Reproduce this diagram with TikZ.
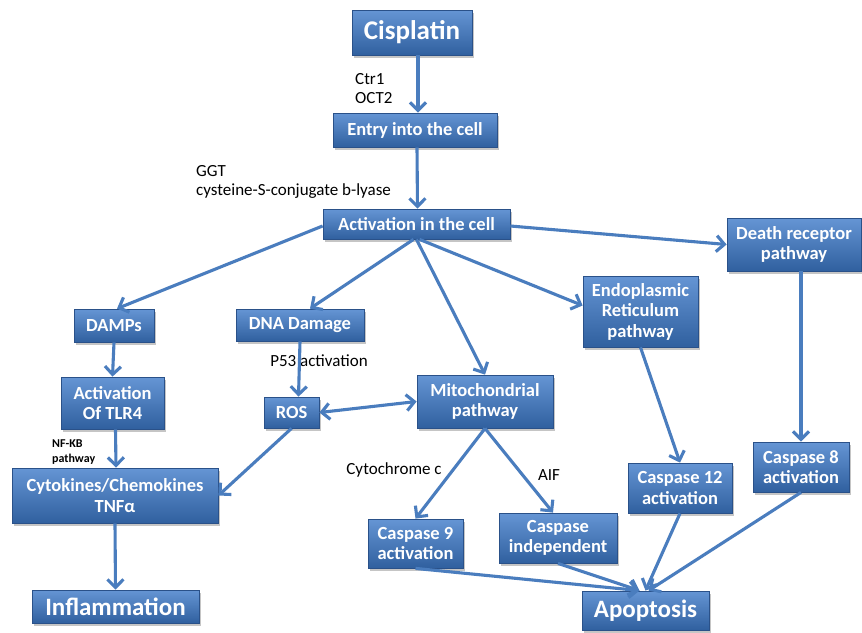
\documentclass[tikz,border=0pt]{standalone}
\usepackage{fontspec}
\setmainfont{Carlito}
\usetikzlibrary{arrows.meta,shadows}
\definecolor{boxtop}{HTML}{6595D4}
\definecolor{boxbot}{HTML}{30609F}
\definecolor{boxedge}{HTML}{2A5189}
\definecolor{arr}{HTML}{4A7DBE}
\begin{document}
\begin{tikzpicture}[x=1pt,y=-1pt,
  >={Straight Barb[length=8pt,width=16pt]},
  box/.style={draw=boxedge, line width=0.8pt, top color=boxtop, bottom color=boxbot,
    text=white, font=\bfseries\fontsize{18.5}{20.5}\selectfont, align=center, inner sep=0pt,
    drop shadow={shadow xshift=2pt,shadow yshift=-2.5pt,opacity=0.45}},
  wh/.style n args={2}{minimum width=#1pt, minimum height=#2pt},
  big/.style={font=\bfseries\fontsize{25}{28}\selectfont},
  conn/.style={draw=arr, line width=3.1pt, ->},
  lbl/.style={font=\fontsize{17}{19.5}\selectfont, text=black, align=left, inner sep=0pt}]
\useasboundingbox[fill=white] (0,0) rectangle (862,632);

% boxes
\node[box, wh={120}{45}, font=\bfseries\fontsize{27}{30}\selectfont] (cis) at (412,32.5) {Cisplatin};
\node[box, wh={164}{34}] (entry) at (415,130) {Entry into the cell};
\node[box, wh={187}{30}] (act) at (416.5,224) {Activation in the cell};
\node[box, wh={134}{53}] (death) at (794,244.5) {Death receptor\\pathway};
\node[box, wh={115}{71}] (er) at (640.5,311.5) {Endoplasmic\\Reticulum\\pathway};
\node[box, wh={96}{50}] (c8) at (801,467) {Caspase 8\\activation};
\node[box, wh={104}{50}] (c12) at (680,488) {Caspase 12\\activation};
\node[box, wh={127}{39}, big] (apop) at (645.5,610.5) {Apoptosis};
\node[box, wh={118}{50}] (cind) at (558,538) {Caspase\\independent};
\node[box, wh={95}{49}] (c9) at (415.5,543.5) {Caspase 9\\activation};
\node[box, wh={136}{53}] (mito) at (485,401.5) {Mitochondrial\\pathway};
\node[box, wh={80}{33}] (damps) at (114,325.5) {DAMPs};
\node[box, wh={128}{32}] (dna) at (300,325) {DNA Damage};
\node[box, wh={103}{52}] (tlr4) at (112.5,403) {Activation\\Of TLR4};
\node[box, wh={55}{31}] (ros) at (291.5,412.5) {ROS};
\node[box, wh={206}{55}] (cyto) at (115,495.5) {Cytokines/Chemokines\\TNFα};
\node[box, wh={167}{33}, big] (infl) at (115.5,606.5) {Inflammation};

% labels
\node[lbl, anchor=west] (ctr) at (355,88.5) {Ctr1\\OCT2};
\node[lbl, anchor=west] (ggt) at (196,182) {GGT\\cysteine-S-conjugate b-lyase};
\node[lbl] (p53) at (319,361) {P53 activation};
\node[lbl, font=\bfseries\fontsize{12}{15}\selectfont, anchor=west] (nfkb) at (52,452) {NF-KB\\pathway};
\node[lbl] (cytc) at (394,470) {Cytochrome c};
\node[lbl] (aif) at (549,475) {AIF};

% connectors
\draw[conn] ([xshift=6pt]cis.south) -- ([xshift=3pt]entry.north);
\draw[conn] ([xshift=2pt]entry.south) -- ([xshift=1pt]act.north);
\draw[conn] ([yshift=-2pt]act.west) -- ([xshift=3pt]damps.north);
\draw[conn] ([xshift=-3pt]act.south) -- ([xshift=10pt]dna.north);
\draw[conn] (act.south) -- (mito.north);
\draw[conn] ([xshift=3pt]act.south) -- ([yshift=6pt]er.west);
\draw[conn] ([yshift=-2pt]act.east) -- (death.west);
\draw[conn] (c8.north |- death.south) -- (c8.north);
\draw[conn] (er.south) -- (c12.north);
\draw[conn] (c8.south) -- ([xshift=3pt]apop.north);
\draw[conn] (c12.south) -- (apop.north);
\draw[conn] (cind.south) -- ([xshift=-6pt]apop.north);
\draw[conn] (c9.south) -- ([xshift=-6pt]apop.north);
\draw[conn] (mito.south) -- (c9.north);
\draw[conn] (mito.south) -- ([xshift=-5pt]cind.north);
\draw[conn, <->] (ros.east) -- (mito.west);
\draw[conn] (dna.south) -- ([xshift=7pt]ros.north);
\draw[conn] (ros.south) -- (cyto.east);
\draw[conn] (damps.south) -- (tlr4.north);
\draw[conn] ([xshift=3pt]tlr4.south) -- ([xshift=1pt]cyto.north);
\draw[conn] (cyto.south) -- (infl.north);
\end{tikzpicture}
\end{document}
